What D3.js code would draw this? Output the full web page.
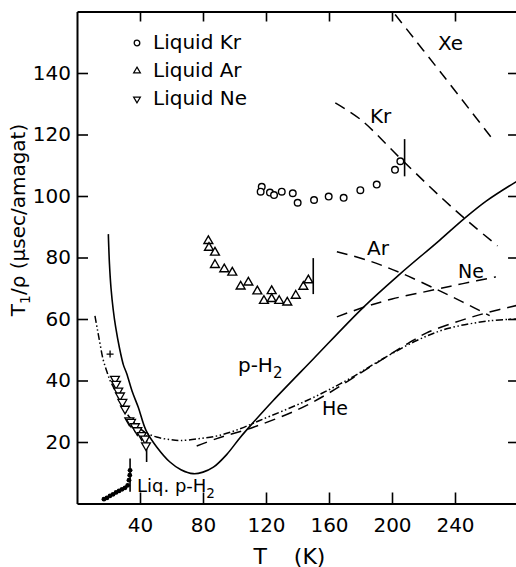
<!DOCTYPE html>
<html><head><meta charset="utf-8">
<script src="https://cdn.jsdelivr.net/npm/d3@7"></script>
<style>
html,body{margin:0;padding:0;background:#fff;}
svg{display:block;font-family:"DejaVu Sans",sans-serif;}
</style></head><body>
<svg id="chart" width="516" height="567"></svg>
<script>
// Measured relaxation data: [T (K), T1/rho (usec/amagat)]
const liquidKr = [[117.3,103.0],[116.6,101.4],[122.5,101.1],[125.1,100.3],[130,101.4],[137,100.9],
  [140.1,97.8],[150.5,98.7],[159.8,99.8],[169.3,99.4],[179.9,101.9],[190.3,103.7],[201.9,108.5],[205.3,111.3]];
const liquidAr = [[83.4,85.4],[83.8,83.2],[87.6,81.6],[87.6,77.6],[93.5,76.2],[98.6,75.1],[103.9,70.6],
  [108.8,71.9],[114.5,69.0],[123.6,69.1],[118.7,65.9],[123.6,66.5],[128.4,65.9],[133.5,65.4],
  [138.9,67.6],[143.7,70.5],[146.9,72.6]];
const liquidNe = [[24.1,40.5],[24.8,38.9],[26.2,36.7],[27.3,35.1],[28.8,33.0],[30.5,30.8],[33.2,27.0],
  [34.3,26.5],[36.8,25.1],[38.3,23.8],[41.1,22.2],[43.2,21.1],[43.8,18.9]];
const liquidPH2 = [[17.1,1.4],[19.0,1.8],[21.0,2.5],[22.9,3.0],[24.8,3.6],[26.7,4.1],[28.6,4.6],
  [30.5,5.1],[32.2,5.9],[33.0,7.6],[33.5,9.2],[33.7,10.8]];
const crossPoint = [[21,48.6]];
// Vertical range bars: [T, low, high]
const rangeBars = [[208,106.4,118.5],[150,68.1,79.8],[44.2,13.5,22.2],[33.7,3.8,14.6]];

// Calculated / gas curves
const curvePH2 = [[19.9,87.6],[20.6,78],[21.6,70],[23,63],[24.5,57.5],[27,50.5],[29.5,45],[31.6,42.2],
  [35,36.5],[38.9,31.3],[43.8,23.8],[50.6,18.4],[59,13.5],[66,11],[73.8,9.7],[80,10.2],[86.6,11.8],
  [95,15.9],[103.5,21.4],[112,26.4],[124.6,33.5],[150,47],[181.8,63.8],[205,74.6],[230,85.5],
  [245.3,92.4],[260,98.4],[280,105]];
const curveDashDot = [[11.4,61],[13,56.5],[14.6,52],[16.5,47],[18.9,43],[21,40],[24,37],[27,33.5],
  [30,30.5],[33.5,28],[38,25.3],[43.2,23.2],[50.5,21.6],[59,20.8],[65.4,20.5],[78,21.1],[90.8,22.2],
  [103.5,24.3],[116,27],[146,33.5],[171,40],[194,47],[215.7,53],[234.7,56.8],[262,59.4],[280,60]];
const curveHe = [[76,18.7],[88.7,21.1],[112,24.8],[140,30.5],[158.5,35.5],[188,45],[210,52],
  [222,55.5],[243,59.4],[260,62],[280,64.5]];
const curveNe = [[165,60.7],[182,63.8],[200,66.5],[226,69.4],[245,71.5],[266,73.7]];
const curveAr = [[165,81.9],[185,79],[205,75.1],[228,69.7],[245,65.5],[262,61.1]];
const curveKr = [[164,130.3],[180,124.9],[205,112.4],[231.5,99.4],[250,91],[267,83.8]];
const curveXe = [[202,159],[232,139.5],[264,118.4]];

const xTicks = [40,80,120,160,200,240];
const yTicks = [20,40,60,80,100,120,140];

const svg = d3.select("#chart");
const x = d3.scaleLinear().domain([0,280]).range([77,518]);
const y = d3.scaleLinear().domain([0,160]).range([503.5,11.5]);

svg.append("clipPath").attr("id","plotArea").append("rect")
  .attr("x",x(0)).attr("y",y(160)).attr("width",x(280)-x(0)).attr("height",y(0)-y(160));

// Axes with inward ticks on all four sides
function styleAxis(g){
  g.select(".domain").attr("stroke","#000").attr("stroke-width",2);
  g.selectAll(".tick line").attr("stroke","#000").attr("stroke-width",1.6);
  g.selectAll(".tick text").attr("fill","#000").attr("font-size",20).attr("font-family","DejaVu Sans");
}
svg.append("g").attr("transform",`translate(0,${y(0)})`)
  .call(d3.axisBottom(x).tickValues(xTicks).tickSizeInner(-11).tickSizeOuter(0).tickPadding(14))
  .call(styleAxis);
svg.append("g").attr("transform",`translate(0,${y(160)})`)
  .call(d3.axisTop(x).tickValues(xTicks).tickSizeInner(-10).tickSizeOuter(0).tickFormat(""))
  .call(styleAxis);
svg.append("g").attr("transform",`translate(${x(0)},0)`)
  .call(d3.axisLeft(y).tickValues(yTicks).tickSizeInner(-11).tickSizeOuter(0).tickPadding(6))
  .call(styleAxis);
svg.append("g").attr("transform",`translate(${x(280)},0)`)
  .call(d3.axisRight(y).tickValues(yTicks).tickSizeInner(-10).tickSizeOuter(0).tickFormat(""))
  .call(styleAxis);

// Axis titles
svg.append("text").attr("x",x(112)).attr("y",563.5).attr("font-size",22)
  .attr("word-spacing",20).text("T (K)");
const yt = svg.append("text").attr("transform","translate(25,220) rotate(-90)")
  .attr("text-anchor","middle").attr("font-size",20);
yt.append("tspan").text("T");
yt.append("tspan").attr("dy",5).attr("font-size",14).text("1");
yt.append("tspan").attr("dy",-5).text("/ρ (μsec/amagat)");

// Curves
const line = d3.line().x(d=>x(d[0])).y(d=>y(d[1])).curve(d3.curveCatmullRom.alpha(0.5));
const curves = svg.append("g").attr("clip-path","url(#plotArea)").attr("fill","none").attr("stroke","#000");
const dashed = "11,7";
curves.append("path").attr("d",line(curvePH2)).attr("stroke-width",1.6);
curves.append("path").attr("d",line(curveDashDot)).attr("stroke-width",1.5).attr("stroke-dasharray","7,2.5,1.5,2.5,1.5,2.5");
curves.append("path").attr("d",line(curveHe)).attr("stroke-width",1.5).attr("stroke-dasharray",dashed);
curves.append("path").attr("d",line(curveNe)).attr("stroke-width",1.5).attr("stroke-dasharray",dashed);
curves.append("path").attr("d",line(curveAr)).attr("stroke-width",1.5).attr("stroke-dasharray",dashed);
curves.append("path").attr("d",line(curveKr)).attr("stroke-width",1.5).attr("stroke-dasharray",dashed);
curves.append("path").attr("d",line(curveXe)).attr("stroke-width",1.5).attr("stroke-dasharray",dashed);

// Range bars
svg.append("g").selectAll("line").data(rangeBars).join("line")
  .attr("x1",d=>x(d[0])).attr("x2",d=>x(d[0])).attr("y1",d=>y(d[1])).attr("y2",d=>y(d[2]))
  .attr("stroke","#000").attr("stroke-width",1.6);

// Markers
const triUp = d3.symbol().type(d3.symbolTriangle).size(34);
svg.append("g").selectAll("circle").data(liquidKr).join("circle")
  .attr("cx",d=>x(d[0])).attr("cy",d=>y(d[1])).attr("r",3.3)
  .attr("fill","#fff").attr("stroke","#000").attr("stroke-width",1.4);
svg.append("g").selectAll("path").data(liquidAr).join("path")
  .attr("d",triUp).attr("transform",d=>`translate(${x(d[0])},${y(d[1])})`)
  .attr("fill","#fff").attr("stroke","#000").attr("stroke-width",1.4);
svg.append("g").selectAll("path").data(liquidNe).join("path")
  .attr("d",triUp).attr("transform",d=>`translate(${x(d[0])},${y(d[1])}) rotate(180)`)
  .attr("fill","#fff").attr("stroke","#000").attr("stroke-width",1.3);
svg.append("g").selectAll("circle").data(liquidPH2).join("circle")
  .attr("cx",d=>x(d[0])).attr("cy",d=>y(d[1])).attr("r",2.4).attr("fill","#000");
svg.append("g").selectAll("path").data(crossPoint).join("path")
  .attr("d",d=>`M${x(d[0])-3.5},${y(d[1])}h7M${x(d[0])},${y(d[1])-3.5}v7`)
  .attr("stroke","#000").attr("stroke-width",1.3);

// Curve labels
function label(t,v,main,sub,size){
  const el = svg.append("text").attr("x",x(t)).attr("y",y(v)).attr("font-size",size);
  el.append("tspan").text(main);
  if(sub){ el.append("tspan").attr("dy",6).attr("font-size",size*0.75).text(sub); }
}
label(229.2,147.5,"Xe",null,20);
label(186,123.7,"Kr",null,20);
label(184.1,80.8,"Ar",null,20);
label(241.9,73.3,"Ne",null,19);
label(102.2,42.8,"p-H","2",20);
label(155.6,28.8,"He",null,19);
label(38.1,3.8,"Liq. p-H","2",18);

// Legend
const legend = svg.append("g").attr("transform","translate(137,0)");
const rows = [{name:"Liquid Kr",kind:"circle"},{name:"Liquid Ar",kind:"up"},{name:"Liquid Ne",kind:"down"}];
rows.forEach((r,i)=>{
  const cy = 43 + i*28;
  if(r.kind==="circle"){
    legend.append("circle").attr("cx",0).attr("cy",cy).attr("r",2.8)
      .attr("fill","#fff").attr("stroke","#000").attr("stroke-width",1.3);
  } else {
    legend.append("path").attr("d",d3.symbol().type(d3.symbolTriangle).size(20))
      .attr("transform",`translate(0,${cy}) rotate(${r.kind==="down"?180:0})`)
      .attr("fill","#fff").attr("stroke","#000").attr("stroke-width",1.2);
  }
  legend.append("text").attr("x",16).attr("y",cy+6).attr("font-size",20).text(r.name);
});
</script>
</body></html>
